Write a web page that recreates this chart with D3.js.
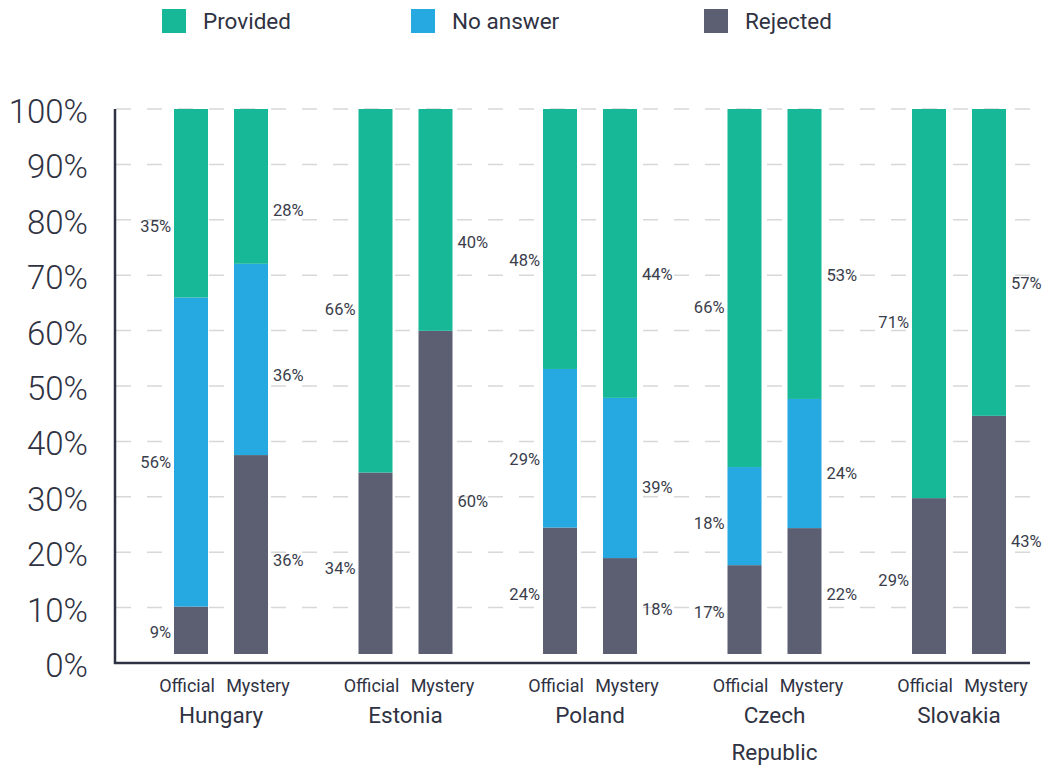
<!DOCTYPE html>
<html><head><meta charset="utf-8">
<script src="https://cdn.jsdelivr.net/npm/d3@7"></script>
<style>
html,body{margin:0;padding:0;background:#fff;}
text{font-family:Roboto,"Noto Sans",sans-serif;}
</style></head>
<body>
<svg id="chart" width="1054" height="766"></svg>
<script>
const countries = ["Hungary", "Estonia", "Poland", "Czech Republic", "Slovakia"];
const sources = ["Official", "Mystery"];
const seriesNames = ["Rejected", "No answer", "Provided"];
const colors = ["#5c5f71", "#26a8e0", "#17b898"];
// bar shares as drawn, per country: [Official, Mystery]
const rejectedShare = [[8.7, 36.5], [33.3, 59.3], [23.2, 17.6], [16.3, 23.1], [28.6, 43.7]];
const noAnswerShare = [[56.7, 35.1], [0, 0],      [29.1, 29.4], [18.0, 23.7], [0, 0]];
const providedShare = [[34.6, 28.4], [66.7, 40.7], [47.7, 53.0], [65.7, 53.2], [71.4, 56.3]];
// printed value labels, per country: [Official, Mystery]
const rejectedLabel = [[9, 36], [34, 60], [24, 18], [17, 22], [29, 43]];
const noAnswerLabel = [[56, 36], [0, 0],  [29, 39], [18, 24], [0, 0]];
const providedLabel = [[35, 28], [66, 40], [48, 44], [66, 53], [71, 57]];
const yTicks = [0, 10, 20, 30, 40, 50, 60, 70, 80, 90, 100];
const legendOrder = ["Provided", "No answer", "Rejected"];

const svg = d3.select("#chart");
const textColor = "#2f3242";

const x = d3.scaleBand().domain(countries).range([128.75, 1051.25]).padding(0);
const sub = d3.scaleBand().domain(sources).range([-47, 47]).paddingInner(0.4333).paddingOuter(0);
const yAxisScale = d3.scaleLinear().domain([0, 100]).range([663, 109]);
const yBar = d3.scaleLinear().domain([0, 100]).range([654, 109]);
const yLabel = d3.scaleLinear().domain([0, 100]).range([654, 137]);
const color = d3.scaleOrdinal().domain(seriesNames).range(colors);

// gridlines
svg.append("g").selectAll("line").data(yTicks.filter(d => d > 0)).join("line")
  .attr("x1", 116).attr("x2", 1030)
  .attr("y1", d => yAxisScale(d)).attr("y2", d => yAxisScale(d))
  .attr("stroke", "#d8d8d8").attr("stroke-width", 1.5)
  .attr("stroke-dasharray", "15,16");

// build stacked records
const records = [];
countries.forEach((c, ci) => {
  sources.forEach((s, si) => {
    const vals = [rejectedShare[ci][si], noAnswerShare[ci][si], providedShare[ci][si]];
    const labs = [rejectedLabel[ci][si], noAnswerLabel[ci][si], providedLabel[ci][si]];
    const total = d3.sum(vals);
    let acc = 0;
    vals.forEach((v, k) => {
      const y0 = acc / total * 100;
      acc += v;
      const y1 = acc / total * 100;
      records.push({country: c, source: s, series: seriesNames[k], value: v, label: labs[k], y0, y1});
    });
  });
});

const bw = sub.bandwidth();
const barX = d => x(d.country) + x.bandwidth() / 2 + sub(d.source);

svg.append("g").selectAll("rect").data(records.filter(d => d.value > 0)).join("rect")
  .attr("x", barX)
  .attr("width", bw)
  .attr("y", d => yBar(d.y1))
  .attr("height", d => yBar(d.y0) - yBar(d.y1))
  .attr("fill", d => color(d.series));

// value labels
svg.append("g").selectAll("text").data(records.filter(d => d.label > 0)).join("text")
  .attr("x", d => d.source === "Official" ? barX(d) - 3 : barX(d) + bw + 5)
  .attr("y", d => yLabel((d.y0 + d.y1) / 2) + 6)
  .attr("text-anchor", d => d.source === "Official" ? "end" : "start")
  .attr("font-size", 16.5).attr("fill", "#3a3d4b")
  .text(d => d.label + "%");

// axes lines
svg.append("line").attr("x1", 115).attr("x2", 115).attr("y1", yAxisScale(100)).attr("y2", yAxisScale(0) + 1)
  .attr("stroke", textColor).attr("stroke-width", 2.5);
svg.append("line").attr("x1", 114).attr("x2", 1030).attr("y1", yAxisScale(0)).attr("y2", yAxisScale(0))
  .attr("stroke", textColor).attr("stroke-width", 2.5);

// y tick labels
svg.append("g").selectAll("text").data(yTicks).join("text")
  .attr("x", 88).attr("y", d => yAxisScale(d) + 14)
  .attr("text-anchor", "end").attr("font-size", 33).attr("font-weight", 300)
  .attr("fill", textColor)
  .text(d => d + "%");

// x labels
const xl = svg.append("g");
countries.forEach(c => {
  const cx = x(c) + x.bandwidth() / 2;
  sources.forEach(s => {
    xl.append("text").attr("x", cx + sub(s) + bw / 2 + (s === "Official" ? -4 : 7)).attr("y", 692)
      .attr("text-anchor", "middle").attr("font-size", 18).attr("fill", textColor).text(s);
  });
  const words = c.split(" ");
  words.forEach((w, i) => {
    xl.append("text").attr("x", cx).attr("y", 723 + i * 37)
      .attr("text-anchor", "middle").attr("font-size", 22.5).attr("fill", textColor).text(w);
  });
});

// legend
const legX = d3.scaleOrdinal().domain(legendOrder).range([162, 411, 704]);
const lg = svg.append("g").selectAll("g").data(legendOrder).join("g")
  .attr("transform", d => `translate(${legX(d)},9)`);
lg.append("rect").attr("width", 24).attr("height", 24).attr("fill", d => color(d));
lg.append("text").attr("x", 41).attr("y", 19.5).attr("font-size", 22.5).attr("fill", textColor).text(d => d);
</script>
</body></html>
